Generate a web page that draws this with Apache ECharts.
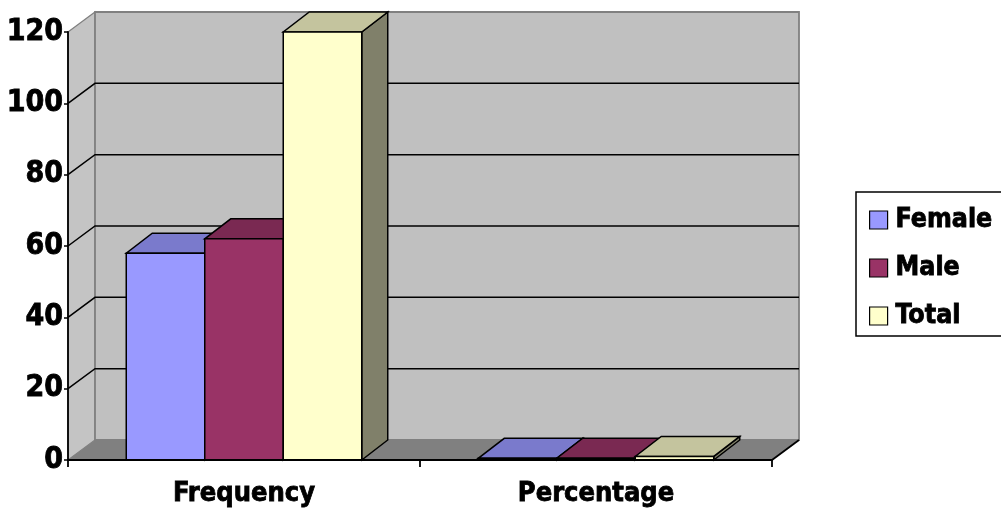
<!DOCTYPE html>
<html>
<head>
<meta charset="utf-8">
<script src="https://cdn.jsdelivr.net/npm/echarts@6/dist/echarts.min.js"></script>
<style>
  html, body { margin: 0; padding: 0; background: #ffffff; }
  #chart { width: 1001px; height: 515px; }
</style>
</head>
<body>
<div id="chart"></div>
<script>
// Survey counts by gender, and the same split as fractions of the total
const categories = ['Frequency', 'Percentage'];
const seriesNames = ['Female', 'Male', 'Total'];
const female = [58, 0.48];
const male = [62, 0.52];
const total = [120, 1];
const yMin = 0;
const yMax = 120;
const yStep = 20;

const FONT = '"DejaVu Sans Condensed", "DejaVu Sans", sans-serif';

// Pseudo-3D depth of the plot box and of the columns
const DX = 27, DY = -20;
const BDX = 26, BDY = -20;
const GROUP_FRAC = 0.669;

const palette = [
  { front: '#9999ff', top: '#7a7acc', side: '#4d4d80' },
  { front: '#993366', top: '#7a2952', side: '#4d1a33' },
  { front: '#ffffcc', top: '#c4c49e', side: '#80806a' }
];

function wallsItem(params, api) {
  const cs = params.coordSys;
  const gx = cs.x, gy = cs.y, gw = cs.width, gh = cs.height;
  const children = [];
  // left side wall
  children.push({
    type: 'polygon',
    shape: { points: [[gx, gy], [gx + DX, gy + DY], [gx + DX, gy + gh + DY], [gx, gy + gh]] },
    style: { fill: '#c4c4c4', stroke: '#808080', lineWidth: 1.2 }
  });
  // back wall
  children.push({
    type: 'rect',
    shape: { x: gx + DX, y: gy + DY, width: gw, height: gh },
    style: { fill: '#c0c0c0', stroke: '#808080', lineWidth: 1.8 }
  });
  // gridlines on the back wall and across the side wall
  for (let v = yMin + yStep; v < yMax; v += yStep) {
    const y = api.coord([0, v])[1];
    children.push({
      type: 'polyline',
      shape: { points: [[gx, y], [gx + DX, y + DY], [gx + gw + DX, y + DY]] },
      style: { fill: null, stroke: '#000000', lineWidth: 1.5 }
    });
  }
  // floor
  const yb = gy + gh;
  children.push({
    type: 'polygon',
    shape: { points: [[gx, yb], [gx + gw, yb], [gx + gw + DX, yb + DY], [gx + DX, yb + DY]] },
    style: { fill: '#808080', stroke: null }
  });
  children.push({
    type: 'line',
    shape: { x1: gx + gw, y1: yb, x2: gx + gw + DX, y2: yb + DY },
    style: { stroke: '#000000', lineWidth: 1.8 }
  });
  return { type: 'group', children: children };
}

function makeBarRenderer(idx) {
  const col = palette[idx];
  return function (params, api) {
    const ci = api.value(0);
    const v = api.value(1);
    const base = api.coord([ci, 0]);
    const top = api.coord([ci, v]);
    const band = api.size([1, 0])[0];
    const groupW = band * GROUP_FRAC;
    const barW = groupW / seriesNames.length;
    const x0 = base[0] - groupW / 2 + idx * barW;
    const x1 = x0 + barW;
    const yt = top[1], yb = base[1];
    const stroke = { stroke: '#000000', lineWidth: 1.5, lineJoin: 'miter' };
    return {
      type: 'group',
      children: [
        {
          type: 'polygon',
          shape: { points: [[x1, yt], [x1 + BDX, yt + BDY], [x1 + BDX, yb + BDY], [x1, yb]] },
          style: Object.assign({ fill: col.side }, stroke)
        },
        {
          type: 'polygon',
          shape: { points: [[x0, yt], [x1, yt], [x1 + BDX, yt + BDY], [x0 + BDX, yt + BDY]] },
          style: Object.assign({ fill: col.top }, stroke)
        },
        {
          type: 'rect',
          shape: { x: x0, y: yt, width: barW, height: yb - yt },
          style: Object.assign({ fill: col.front }, stroke)
        }
      ]
    };
  };
}

const values = [female, male, total];
const barSeries = seriesNames.map(function (name, i) {
  return {
    name: name,
    type: 'custom',
    renderItem: makeBarRenderer(i),
    clip: false,
    z: 3,
    itemStyle: { color: palette[i].front, borderColor: '#000000', borderWidth: 1.2 },
    encode: { x: 0, y: 1 },
    data: values[i].map(function (v, ci) { return [ci, v]; })
  };
});

const chart = echarts.init(document.getElementById('chart'), null, { renderer: 'canvas' });
chart.setOption({
  animation: false,
  backgroundColor: '#ffffff',
  grid: { left: 68, right: 229, top: 32, bottom: 55 },
  legend: {
    data: seriesNames,
    orient: 'vertical',
    left: 856,
    top: 192,
    padding: [14, 20, 6, 13],
    itemWidth: 18,
    itemHeight: 18,
    itemGap: 20,
    icon: 'rect',
    borderColor: '#000000',
    borderWidth: 1.5,
    itemStyle: { borderColor: '#000000', borderWidth: 1.2 },
    textStyle: {
      fontFamily: FONT, fontWeight: 'bold', fontSize: 26.5, color: '#000000',
      lineHeight: 28, padding: [0, 0, 0, 3],
      textBorderColor: '#000000', textBorderWidth: 0.8
    }
  },
  xAxis: {
    type: 'category',
    data: categories,
    z: 6,
    axisLine: { show: true, lineStyle: { color: '#000000', width: 1.8 } },
    axisTick: { show: true, length: 7, interval: 0, lineStyle: { color: '#000000', width: 1.8 } },
    axisLabel: {
      margin: 20, color: '#000000', fontFamily: FONT, fontWeight: 'bold', fontSize: 27,
      textBorderColor: '#000000', textBorderWidth: 0.8
    },
    splitLine: { show: false }
  },
  yAxis: {
    type: 'value',
    min: yMin,
    max: yMax,
    interval: yStep,
    z: 6,
    axisLine: { show: true, lineStyle: { color: '#000000', width: 1.8 } },
    axisTick: { show: true, length: 4, lineStyle: { color: '#000000', width: 1.5 } },
    axisLabel: {
      margin: 5, color: '#000000', fontFamily: FONT, fontWeight: 'bold', fontSize: 30,
      textBorderColor: '#000000', textBorderWidth: 0.8
    },
    splitLine: { show: false }
  },
  series: [
    {
      type: 'custom',
      silent: true,
      clip: false,
      z: 1,
      renderItem: wallsItem,
      encode: { x: 0, y: 1 },
      data: [[0, 0]]
    }
  ].concat(barSeries)
});
</script>
</body>
</html>
